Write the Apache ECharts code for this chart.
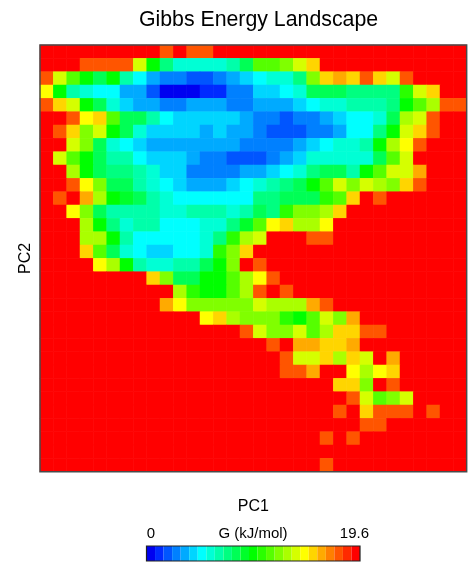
<!DOCTYPE html>
<html>
<head>
<meta charset="utf-8">
<style>html,body{margin:0;padding:0;background:#fff}#c{width:474px;height:564px}</style>
<script src="https://cdn.jsdelivr.net/npm/echarts@6/dist/echarts.min.js"></script>
</head>
<body>
<div id="c"></div>
<script>
const R = 19.6;
const titleText = 'Gibbs Energy Landscape';
const xName = 'PC1';
const yName = 'PC2';
const scaleMin = 0;
const scaleMax = 19.6;
const scaleName = 'G (kJ/mol)';
const bandColors = ['#0000f0','#002aff','#0055ff','#0080ff','#00aaff','#00d5ff','#00ffff','#00ffd5','#00ffaa','#00ff80','#00ff55','#00ff2a','#00ff00','#2aff00','#55ff00','#80ff00','#aaff00','#d5ff00','#ffff00','#ffd500','#ffaa00','#ff8000','#ff5500','#ff2a00','#ff0000'];
// Energy per cell in kJ/mol; each row runs left to right, rows run top to bottom.
const rows = [
[R,R,R,R,R,R,R,R,R,17.6,R,17.6,17.6,R,R,R,R,R,R,R,R,R,R,R,R,R,R,R,R,R,R,R],
[R,R,R,17.6,17.6,17.6,17.6,13.7,9.8,7.4,5.9,5.9,5.9,5.9,6.7,8.2,11.4,11.4,12.2,13.7,15.3,R,R,R,R,R,R,R,R,R,R,R],
[17.6,13.7,11.4,9.8,8.2,9.8,6.7,5.1,3.5,2.7,2.7,2.0,2.0,2.7,3.5,4.3,5.1,5.9,5.9,7.4,12.2,15.3,16.1,15.3,17.6,15.3,13.7,17.6,R,R,R,R],
[14.5,9.8,6.7,5.9,5.1,5.1,3.5,3.5,2.0,0.4,0.4,0.4,1.2,1.2,2.7,2.7,4.3,4.3,5.1,5.9,8.2,8.2,8.2,7.4,7.4,7.4,7.4,10.6,13.7,15.3,R,R],
[17.6,15.3,13.7,9.8,8.2,5.9,4.3,3.5,3.5,2.7,2.7,3.5,3.5,3.5,2.7,2.7,3.5,3.5,3.5,4.3,5.1,5.9,5.9,6.7,6.7,6.7,7.4,9.8,11.4,12.9,17.6,17.6],
[R,R,17.6,14.5,15.3,11.4,8.2,8.2,6.7,5.1,4.3,4.3,4.3,4.3,4.3,3.5,2.7,2.7,2.0,2.7,2.7,3.5,4.3,5.1,5.1,5.9,8.2,12.9,13.7,17.6,R,R],
[R,17.6,15.3,12.2,13.7,9.8,8.2,5.9,4.3,4.3,4.3,4.3,3.5,4.3,3.5,3.5,2.7,2.0,2.0,2.0,2.7,2.7,3.5,5.1,5.1,7.4,9.8,13.7,15.3,17.6,R,R],
[R,R,13.7,12.2,8.2,5.9,5.1,4.3,3.5,3.5,3.5,3.5,3.5,3.5,3.5,2.7,2.7,2.7,2.7,3.5,4.3,5.1,5.9,5.9,6.7,9.8,12.9,14.5,17.6,R,R,R],
[R,13.7,11.4,9.8,8.2,6.7,6.7,5.1,4.3,4.3,4.3,3.5,2.7,2.7,2.0,2.0,2.0,2.7,3.5,4.3,5.9,5.9,5.9,5.9,5.9,8.2,11.4,13.7,R,R,R,R],
[R,R,12.9,9.8,8.2,7.4,7.4,6.7,5.9,4.3,4.3,2.7,2.7,2.7,2.7,3.5,3.5,4.3,5.1,5.9,7.4,8.2,8.2,6.7,9.8,11.4,13.7,13.7,16.1,R,R,R],
[R,R,17.6,14.5,12.2,8.2,8.2,6.7,5.9,5.1,4.3,3.5,3.5,3.5,4.3,5.1,5.9,6.7,7.4,8.2,9.8,11.4,13.7,12.2,13.7,12.9,12.2,15.3,17.6,R,R,R],
[R,17.6,R,16.1,12.9,9.8,9.0,8.2,6.7,5.9,5.1,5.1,5.1,5.1,5.1,5.1,7.4,7.4,8.2,8.2,8.2,10.6,11.4,15.3,R,17.6,R,R,R,R,R,R],
[R,R,14.5,12.2,8.2,6.7,6.7,6.7,6.7,5.9,5.9,6.7,6.7,6.7,5.9,6.7,8.2,7.4,10.6,12.2,12.2,12.9,15.3,R,R,R,R,R,R,R,R,R],
[R,R,R,12.9,9.8,7.4,5.9,6.7,6.7,5.1,5.1,5.1,5.9,5.9,7.4,9.0,11.4,14.5,15.3,12.9,12.9,14.5,R,R,R,R,R,R,R,R,R,R],
[R,R,R,12.9,12.9,9.8,6.7,5.1,5.1,5.1,5.1,5.1,5.9,7.4,10.6,12.9,13.7,R,R,R,17.6,17.6,R,R,R,R,R,R,R,R,R,R],
[R,R,R,15.3,11.4,8.2,5.9,5.1,4.3,4.3,5.1,5.1,5.9,10.6,12.2,15.3,R,R,R,R,R,R,R,R,R,R,R,R,R,R,R,R],
[R,R,R,R,14.5,12.9,9.8,6.7,5.9,5.9,6.7,6.7,8.2,9.8,12.2,R,17.6,R,R,R,R,R,R,R,R,R,R,R,R,R,R,R],
[R,R,R,R,R,R,R,R,15.3,12.2,8.2,8.2,9.8,9.8,11.4,12.9,14.5,17.6,R,R,R,R,R,R,R,R,R,R,R,R,R,R],
[R,R,R,R,R,R,R,R,R,R,12.9,10.6,9.8,9.8,11.4,12.9,17.6,R,17.6,R,R,R,R,R,R,R,R,R,R,R,R,R],
[R,R,R,R,R,R,R,R,R,16.1,14.5,12.2,12.2,12.2,12.2,12.2,13.7,12.9,12.9,12.9,16.1,17.6,R,R,R,R,R,R,R,R,R,R],
[R,R,R,R,R,R,R,R,R,R,R,R,14.5,15.3,12.9,12.2,12.2,12.2,10.6,9.8,11.4,13.7,12.2,16.1,R,R,R,R,R,R,R,R],
[R,R,R,R,R,R,R,R,R,R,R,R,R,R,R,17.6,13.7,12.2,12.2,13.7,11.4,12.9,15.3,15.3,17.6,17.6,R,R,R,R,R,R],
[R,R,R,R,R,R,R,R,R,R,R,R,R,R,R,R,R,17.6,R,16.1,16.1,15.3,15.3,16.1,R,R,R,R,R,R,R,R],
[R,R,R,R,R,R,R,R,R,R,R,R,R,R,R,R,R,R,17.6,13.7,13.7,15.3,12.9,15.3,13.7,R,16.1,R,R,R,R,R],
[R,R,R,R,R,R,R,R,R,R,R,R,R,R,R,R,R,R,17.6,17.6,16.1,R,R,14.5,12.9,14.5,15.3,R,R,R,R,R],
[R,R,R,R,R,R,R,R,R,R,R,R,R,R,R,R,R,R,R,R,R,R,15.3,15.3,12.2,R,17.6,R,R,R,R,R],
[R,R,R,R,R,R,R,R,R,R,R,R,R,R,R,R,R,R,R,R,R,R,R,17.6,13.7,11.4,12.2,13.7,R,R,R,R],
[R,R,R,R,R,R,R,R,R,R,R,R,R,R,R,R,R,R,R,R,R,R,17.6,R,15.3,17.6,17.6,17.6,R,17.6,R,R],
[R,R,R,R,R,R,R,R,R,R,R,R,R,R,R,R,R,R,R,R,R,R,R,R,17.6,17.6,R,R,R,R,R,R],
[R,R,R,R,R,R,R,R,R,R,R,R,R,R,R,R,R,R,R,R,R,17.6,R,17.6,R,R,R,R,R,R,R,R],
[R,R,R,R,R,R,R,R,R,R,R,R,R,R,R,R,R,R,R,R,R,R,R,R,R,R,R,R,R,R,R,R],
[R,R,R,R,R,R,R,R,R,R,R,R,R,R,R,R,R,R,R,R,R,17.6,R,R,R,R,R,R,R,R,R,R]
];

const colLabels = rows[0].map((_, i) => String(i));
const rowLabels = rows.map((_, i) => String(i));
const cells = [];
rows.forEach((row, r) => row.forEach((v, c) => cells.push([c, r, v])));
const bandSize = (scaleMax - scaleMin) / bandColors.length;
const pieces = bandColors.map((color, k) => k === bandColors.length - 1
  ? { gte: scaleMin + k * bandSize, lte: scaleMax + 0.01, color }
  : { gte: scaleMin + k * bandSize, lt: scaleMin + (k + 1) * bandSize, color });

const fontFamily = '"Liberation Sans", Arial, sans-serif';
const gridBox = { left: 40, top: 45, width: 426.67, height: 426.67 };
const barBox = { left: 146.5, top: 546, width: 213.5, height: 15 };

const chart = echarts.init(document.getElementById('c'), null, { renderer: 'canvas' });
chart.setOption({
  animation: false,
  backgroundColor: '#ffffff',
  title: {
    text: titleText, left: 253.5, top: 5, textAlign: 'center',
    textStyle: { fontFamily, fontSize: 21.3, fontWeight: 'normal', color: '#000' }
  },
  grid: Object.assign({ containLabel: false }, gridBox),
  xAxis: {
    type: 'category', data: colLabels, name: xName, nameLocation: 'middle', nameGap: 27,
    nameTextStyle: { fontFamily, fontSize: 16, color: '#000' },
    axisLine: { show: false }, axisTick: { show: false }, axisLabel: { show: false }, splitLine: { show: false }
  },
  yAxis: {
    type: 'category', data: rowLabels, inverse: true, name: yName, nameLocation: 'middle', nameGap: 6,
    nameTextStyle: { fontFamily, fontSize: 16, color: '#000' },
    axisLine: { show: false }, axisTick: { show: false }, axisLabel: { show: false }, splitLine: { show: false }
  },
  visualMap: {
    type: 'piecewise', pieces, orient: 'horizontal', left: barBox.left, top: barBox.top,
    itemWidth: barBox.width / bandColors.length, itemHeight: barBox.height, itemGap: 0,
    itemSymbol: 'rect', showLabel: false, selectedMode: false, padding: 0, seriesIndex: 0
  },
  series: [{
    type: 'heatmap', data: cells, silent: true, progressive: 0,
    itemStyle: { borderWidth: 0 }, emphasis: { disabled: true }
  }],
  graphic: [
    { type: 'rect', silent: true, z: 100, shape: { x: gridBox.left, y: gridBox.top, width: gridBox.width, height: gridBox.height },
      style: { fill: 'none', stroke: '#4a4a4a', lineWidth: 1.5 } },
    { type: 'rect', silent: true, z: 100, shape: { x: barBox.left, y: barBox.top, width: barBox.width, height: barBox.height },
      style: { fill: 'none', stroke: '#222', lineWidth: 1.2 } },
    { type: 'text', silent: true, z: 100, style: { x: 151, y: 534, text: String(scaleMin), fill: '#000', font: '15px ' + fontFamily, textAlign: 'center', textVerticalAlign: 'middle' } },
    { type: 'text', silent: true, z: 100, style: { x: 253, y: 534, text: scaleName, fill: '#000', font: '15px ' + fontFamily, textAlign: 'center', textVerticalAlign: 'middle' } },
    { type: 'text', silent: true, z: 100, style: { x: 369, y: 534, text: String(scaleMax), fill: '#000', font: '15px ' + fontFamily, textAlign: 'right', textVerticalAlign: 'middle' } }
  ]
});
</script>
</body>
</html>
